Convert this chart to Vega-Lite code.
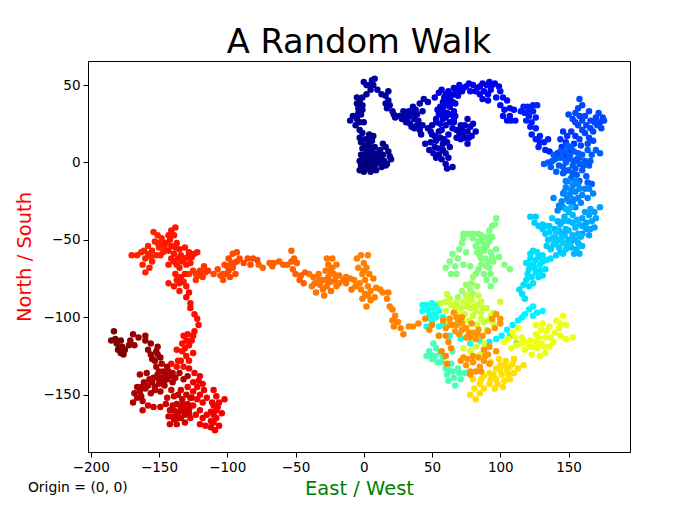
{"$schema":"https://vega.github.io/schema/vega-lite/v6.json","width":542,"height":391,"autosize":"none","padding":{"left":88,"top":61,"right":70,"bottom":56},"background":"white",
"title":{"text":"A Random Walk","fontSize":33.7,"fontWeight":"normal","font":"DejaVu Sans","color":"black","anchor":"middle","offset":1},
"config":{"view":{"stroke":"black","strokeWidth":1},"axis":{"grid":false,"domain":false,"tickColor":"black","tickSize":5,"labelColor":"black","labelFont":"DejaVu Sans","labelFontSize":13.5,"labelPadding":3,"titleFont":"DejaVu Sans","titleFontWeight":"normal","titleFontSize":19.5}},
"layer":[
{"data":{"values":[
{"t":0,"x":0,"y":0},{"t":0,"x":3,"y":-4},{"t":0,"x":5,"y":-6},{"t":0,"x":-3,"y":-5},{"t":0,"x":-1,"y":2},{"t":0,"x":1,"y":5},{"t":0,"x":-2,"y":-2},{"t":0,"x":4,"y":-1},{"t":0,"x":7,"y":1},{"t":0,"x":6,"y":-3},{"t":0,"x":1,"y":-3},{"t":0,"x":-3,"y":1},{"t":0,"x":2,"y":2},{"t":0,"x":5,"y":3},{"t":0,"x":0,"y":-6},{"t":0,"x":8,"y":-2},{"t":0,"x":-2,"y":5},{"t":0,"x":3,"y":7},
{"t":1,"x":2,"y":8},{"t":1,"x":4,"y":12},{"t":1,"x":6,"y":14},{"t":1,"x":1,"y":11},{"t":1,"x":-1,"y":9},{"t":1,"x":7,"y":6},{"t":1,"x":3,"y":4},{"t":1,"x":9,"y":3},{"t":1,"x":11,"y":0},{"t":1,"x":13,"y":-3},{"t":1,"x":9,"y":-5},{"t":1,"x":15,"y":1},{"t":1,"x":5,"y":9},{"t":1,"x":8,"y":10},{"t":1,"x":-2,"y":13},{"t":1,"x":3,"y":15},{"t":1,"x":7,"y":17},{"t":1,"x":4,"y":18},{"t":1,"x":12,"y":3},{"t":1,"x":14,"y":5},{"t":1,"x":16,"y":-2},{"t":1,"x":10,"y":6},
{"t":1,"x":19,"y":4},{"t":1,"x":18,"y":7},{"t":1,"x":16,"y":10},{"t":1,"x":14,"y":12},{"t":1,"x":20,"y":2},{"t":1,"x":17,"y":-1},{"t":1,"x":12,"y":8},
{"t":2,"x":1,"y":15},{"t":2,"x":-1,"y":19},{"t":2,"x":-3,"y":16},{"t":2,"x":-3,"y":21},{"t":2,"x":-6,"y":24},{"t":2,"x":-10,"y":27},{"t":2,"x":-8,"y":30},{"t":2,"x":-5,"y":28},{"t":2,"x":-3,"y":26},{"t":2,"x":0,"y":26},{"t":2,"x":-2,"y":31},{"t":2,"x":-4,"y":35},{"t":2,"x":-3,"y":39},{"t":2,"x":-1,"y":37},{"t":2,"x":-5,"y":42},{"t":2,"x":-1,"y":42},{"t":2,"x":2,"y":44},{"t":2,"x":5,"y":47},{"t":2,"x":7,"y":50},{"t":2,"x":4,"y":50},{"t":2,"x":-4,"y":32},{"t":2,"x":-1,"y":34},{"t":2,"x":-5,"y":38},
{"t":3,"x":8,"y":54},{"t":3,"x":6,"y":53},{"t":3,"x":0,"y":52},{"t":3,"x":2,"y":50},{"t":3,"x":10,"y":47},{"t":3,"x":13,"y":44},{"t":3,"x":16,"y":43},{"t":3,"x":18,"y":40},{"t":3,"x":19,"y":37},{"t":3,"x":16,"y":38},{"t":3,"x":21,"y":33},{"t":3,"x":23,"y":29},{"t":3,"x":26,"y":30},{"t":3,"x":29,"y":33},{"t":3,"x":17,"y":35},{"t":3,"x":18,"y":46},{"t":3,"x":22,"y":31},
{"t":4,"x":28,"y":28},{"t":4,"x":31,"y":26},{"t":4,"x":33,"y":30},{"t":4,"x":36,"y":32},{"t":4,"x":34,"y":25},{"t":4,"x":37,"y":28},{"t":4,"x":38,"y":34},{"t":4,"x":40,"y":27},{"t":4,"x":37,"y":22},{"t":4,"x":41,"y":21},{"t":4,"x":43,"y":24},{"t":4,"x":43,"y":33},{"t":4,"x":41,"y":38},{"t":4,"x":44,"y":41},{"t":4,"x":47,"y":39},{"t":4,"x":30,"y":30},{"t":4,"x":33,"y":33},{"t":4,"x":36,"y":36},{"t":4,"x":39,"y":31},{"t":4,"x":35,"y":23},{"t":4,"x":32,"y":28},{"t":4,"x":39,"y":24},{"t":4,"x":42,"y":18},
{"t":5,"x":47,"y":22},{"t":5,"x":50,"y":24},{"t":5,"x":53,"y":28},{"t":5,"x":50,"y":18},{"t":5,"x":53,"y":14},{"t":5,"x":49,"y":13},{"t":5,"x":45,"y":12},{"t":5,"x":48,"y":8},{"t":5,"x":51,"y":6},{"t":5,"x":55,"y":9},{"t":5,"x":58,"y":12},{"t":5,"x":53,"y":3},{"t":5,"x":57,"y":2},{"t":5,"x":60,"y":6},{"t":5,"x":63,"y":10},{"t":5,"x":62,"y":3},{"t":5,"x":60,"y":-1},{"t":5,"x":61,"y":-4},{"t":5,"x":65,"y":-3},{"t":5,"x":56,"y":16},{"t":5,"x":52,"y":10},{"t":5,"x":55,"y":5},{"t":5,"x":58,"y":8},{"t":5,"x":52,"y":17},{"t":5,"x":55,"y":20},{"t":5,"x":49,"y":20},{"t":5,"x":59,"y":15},{"t":5,"x":61,"y":13},
{"t":6,"x":57,"y":21},{"t":6,"x":60,"y":24},{"t":6,"x":62,"y":18},{"t":6,"x":65,"y":22},{"t":6,"x":68,"y":16},{"t":6,"x":72,"y":21},{"t":6,"x":74,"y":24},{"t":6,"x":76,"y":28},{"t":6,"x":78,"y":23},{"t":6,"x":82,"y":20},{"t":6,"x":79,"y":17},{"t":6,"x":76,"y":12},{"t":6,"x":74,"y":16},{"t":6,"x":70,"y":19},{"t":6,"x":66,"y":28},{"t":6,"x":71,"y":24},{"t":6,"x":76,"y":20},{"t":6,"x":80,"y":25},{"t":6,"x":73,"y":19},{"t":6,"x":68,"y":21},{"t":6,"x":77,"y":16},{"t":6,"x":71,"y":15},
{"t":8,"x":53,"y":26},{"t":8,"x":55,"y":31},{"t":8,"x":58,"y":28},{"t":8,"x":61,"y":32},{"t":8,"x":56,"y":36},{"t":8,"x":60,"y":37},{"t":8,"x":63,"y":36},{"t":8,"x":66,"y":33},{"t":8,"x":59,"y":42},{"t":8,"x":63,"y":41},{"t":8,"x":67,"y":38},{"t":8,"x":55,"y":45},{"t":8,"x":52,"y":42},{"t":8,"x":57,"y":47},{"t":8,"x":62,"y":46},{"t":8,"x":66,"y":44},{"t":8,"x":69,"y":43},{"t":8,"x":66,"y":48},{"t":8,"x":72,"y":46},{"t":8,"x":56,"y":25},{"t":8,"x":60,"y":29},{"t":8,"x":63,"y":31},{"t":8,"x":58,"y":34},{"t":8,"x":61,"y":39},{"t":8,"x":65,"y":39},{"t":8,"x":58,"y":39},{"t":8,"x":60,"y":44},{"t":8,"x":64,"y":43},{"t":8,"x":69,"y":47},{"t":8,"x":63,"y":26},{"t":8,"x":66,"y":26},{"t":8,"x":59,"y":31},{"t":8,"x":67,"y":30},{"t":8,"x":54,"y":34},
{"t":10,"x":70,"y":50},{"t":10,"x":75,"y":49},{"t":10,"x":78,"y":46},{"t":10,"x":80,"y":50},{"t":10,"x":83,"y":48},{"t":10,"x":87,"y":51},{"t":10,"x":90,"y":50},{"t":10,"x":93,"y":47},{"t":10,"x":96,"y":51},{"t":10,"x":94,"y":50},{"t":10,"x":99,"y":49},{"t":10,"x":85,"y":44},{"t":10,"x":87,"y":41},{"t":10,"x":91,"y":40},{"t":10,"x":73,"y":48},{"t":10,"x":77,"y":51},{"t":10,"x":82,"y":46},{"t":10,"x":85,"y":49},{"t":10,"x":88,"y":46},{"t":10,"x":91,"y":44},{"t":10,"x":92,"y":52},
{"t":12,"x":100,"y":46},{"t":12,"x":102,"y":42},{"t":12,"x":105,"y":40},{"t":12,"x":97,"y":42},{"t":12,"x":100,"y":37},{"t":12,"x":103,"y":34},{"t":12,"x":107,"y":35},{"t":12,"x":110,"y":34},{"t":12,"x":107,"y":30},{"t":12,"x":111,"y":27},{"t":12,"x":105,"y":27},{"t":12,"x":102,"y":30},{"t":12,"x":108,"y":27},
{"t":14,"x":115,"y":33},{"t":14,"x":117,"y":36},{"t":14,"x":120,"y":36},{"t":14,"x":124,"y":37},{"t":14,"x":127,"y":37},{"t":14,"x":118,"y":32},{"t":14,"x":121,"y":30},{"t":14,"x":124,"y":33},{"t":14,"x":119,"y":27},{"t":14,"x":123,"y":26},{"t":14,"x":126,"y":22},{"t":14,"x":123,"y":18},{"t":14,"x":126,"y":15},{"t":14,"x":129,"y":17},{"t":14,"x":128,"y":10},{"t":14,"x":132,"y":13},{"t":14,"x":135,"y":15},{"t":14,"x":133,"y":8},{"t":14,"x":136,"y":7},{"t":14,"x":121,"y":34},{"t":14,"x":122,"y":23},{"t":14,"x":126,"y":29},{"t":14,"x":129,"y":13},
{"t":16,"x":142,"y":6},{"t":16,"x":145,"y":10},{"t":16,"x":147,"y":4},{"t":16,"x":151,"y":8},{"t":16,"x":154,"y":12},{"t":16,"x":148,"y":13},{"t":16,"x":144,"y":15},{"t":16,"x":149,"y":17},{"t":16,"x":152,"y":20},{"t":16,"x":146,"y":20},{"t":16,"x":155,"y":17},
{"t":18,"x":158,"y":15},{"t":18,"x":162,"y":19},{"t":18,"x":165,"y":16},{"t":18,"x":168,"y":20},{"t":18,"x":171,"y":24},{"t":18,"x":174,"y":22},{"t":18,"x":175,"y":29},{"t":18,"x":172,"y":32},{"t":18,"x":176,"y":27},{"t":18,"x":170,"y":29},{"t":18,"x":166,"y":27},{"t":18,"x":163,"y":24},{"t":18,"x":160,"y":27},{"t":18,"x":158,"y":30},{"t":18,"x":155,"y":26},{"t":18,"x":153,"y":28},{"t":18,"x":157,"y":35},{"t":18,"x":160,"y":37},{"t":18,"x":158,"y":41},{"t":18,"x":165,"y":33},{"t":18,"x":150,"y":31},{"t":18,"x":168,"y":14},{"t":18,"x":159,"y":11},{"t":18,"x":160,"y":21},{"t":18,"x":166,"y":22},{"t":18,"x":169,"y":26},{"t":18,"x":173,"y":26},{"t":18,"x":157,"y":24},{"t":18,"x":162,"y":30},{"t":18,"x":155,"y":32},{"t":18,"x":164,"y":12},
{"t":20,"x":135,"y":0},{"t":20,"x":132,"y":-1},{"t":20,"x":137,"y":-3},{"t":20,"x":140,"y":2},{"t":20,"x":143,"y":-2},{"t":20,"x":145,"y":3},{"t":20,"x":141,"y":-6},{"t":20,"x":148,"y":0},{"t":20,"x":151,"y":4},{"t":20,"x":153,"y":-2},{"t":20,"x":156,"y":2},{"t":20,"x":150,"y":-5},{"t":20,"x":158,"y":-1},{"t":20,"x":154,"y":7},{"t":20,"x":160,"y":5},{"t":20,"x":164,"y":8},{"t":20,"x":167,"y":5},{"t":20,"x":170,"y":8},{"t":20,"x":173,"y":6},{"t":20,"x":162,"y":1},{"t":20,"x":165,"y":-2},{"t":20,"x":160,"y":-5},{"t":20,"x":156,"y":-8},{"t":20,"x":163,"y":-9},{"t":20,"x":139,"y":5},{"t":20,"x":144,"y":7},{"t":20,"x":148,"y":7},{"t":20,"x":146,"y":-3},{"t":20,"x":150,"y":2},{"t":20,"x":154,"y":1},{"t":20,"x":152,"y":10},{"t":20,"x":157,"y":6},{"t":20,"x":143,"y":3},{"t":20,"x":147,"y":-6},{"t":20,"x":155,"y":-4},{"t":20,"x":161,"y":-2},{"t":20,"x":138,"y":1},{"t":20,"x":153,"y":-7},{"t":20,"x":158,"y":3},{"t":20,"x":149,"y":11},{"t":20,"x":166,"y":1},
{"t":20,"x":146,"y":-7},{"t":20,"x":152,"y":-10},{"t":20,"x":158,"y":-12},{"t":20,"x":164,"y":-13},{"t":20,"x":167,"y":-14},
{"t":24,"x":150,"y":-12},{"t":24,"x":153,"y":-15},{"t":24,"x":148,"y":-16},{"t":24,"x":155,"y":-19},{"t":24,"x":151,"y":-21},{"t":24,"x":146,"y":-20},{"t":24,"x":158,"y":-17},{"t":24,"x":160,"y":-21},{"t":24,"x":165,"y":-17},{"t":24,"x":168,"y":-20},{"t":24,"x":164,"y":-23},{"t":24,"x":145,"y":-25},{"t":24,"x":143,"y":-28},{"t":24,"x":139,"y":-23},{"t":24,"x":142,"y":-31},{"t":24,"x":146,"y":-29},{"t":24,"x":150,"y":-25},{"t":24,"x":154,"y":-24},{"t":24,"x":155,"y":-29},{"t":24,"x":159,"y":-26},{"t":24,"x":148,"y":-12},{"t":24,"x":155,"y":-12},{"t":24,"x":152,"y":-18},{"t":24,"x":157,"y":-14},{"t":24,"x":149,"y":-23},{"t":24,"x":153,"y":-27},{"t":24,"x":162,"y":-17},{"t":24,"x":157,"y":-23},{"t":24,"x":147,"y":-19},
{"t":27,"x":162,"y":-32},{"t":27,"x":165,"y":-34},{"t":27,"x":169,"y":-32},{"t":27,"x":173,"y":-29},{"t":27,"x":160,"y":-36},{"t":27,"x":163,"y":-39},{"t":27,"x":167,"y":-38},{"t":27,"x":169,"y":-42},{"t":27,"x":163,"y":-43},{"t":27,"x":165,"y":-47},{"t":27,"x":160,"y":-46},{"t":27,"x":166,"y":-30},{"t":27,"x":160,"y":-41},{"t":27,"x":166,"y":-43},{"t":27,"x":170,"y":-36},
{"t":29,"x":150,"y":-32},{"t":29,"x":153,"y":-34},{"t":29,"x":147,"y":-35},{"t":29,"x":156,"y":-37},{"t":29,"x":150,"y":-38},{"t":29,"x":144,"y":-40},{"t":29,"x":155,"y":-42},{"t":29,"x":148,"y":-43},{"t":29,"x":159,"y":-48},{"t":29,"x":153,"y":-47},{"t":29,"x":150,"y":-50},{"t":29,"x":145,"y":-46},{"t":29,"x":140,"y":-43},{"t":29,"x":157,"y":-52},{"t":29,"x":160,"y":-54},{"t":29,"x":156,"y":-56},{"t":29,"x":158,"y":-59},{"t":29,"x":152,"y":-55},{"t":29,"x":148,"y":-30},{"t":29,"x":152,"y":-29},{"t":29,"x":146,"y":-38},{"t":29,"x":153,"y":-39},{"t":29,"x":150,"y":-44},{"t":29,"x":143,"y":-44},{"t":29,"x":147,"y":-47},{"t":29,"x":155,"y":-50},{"t":29,"x":152,"y":-51},{"t":29,"x":149,"y":-54},{"t":29,"x":157,"y":-46},{"t":29,"x":142,"y":-38},{"t":29,"x":158,"y":-40},{"t":29,"x":154,"y":-59},
{"t":31,"x":136,"y":-45},{"t":31,"x":140,"y":-48},{"t":31,"x":135,"y":-50},{"t":31,"x":143,"y":-50},{"t":31,"x":146,"y":-52},{"t":31,"x":139,"y":-53},{"t":31,"x":143,"y":-55},{"t":31,"x":148,"y":-56},{"t":31,"x":146,"y":-59},{"t":31,"x":141,"y":-60},{"t":31,"x":134,"y":-54},{"t":31,"x":131,"y":-43},{"t":31,"x":128,"y":-41},{"t":31,"x":125,"y":-39},{"t":31,"x":122,"y":-35},{"t":31,"x":126,"y":-35},{"t":31,"x":131,"y":-40},{"t":31,"x":136,"y":-41},{"t":31,"x":138,"y":-36},{"t":31,"x":138,"y":-49},{"t":31,"x":141,"y":-45},{"t":31,"x":145,"y":-49},{"t":31,"x":137,"y":-56},{"t":31,"x":141,"y":-52},{"t":31,"x":133,"y":-46},{"t":31,"x":150,"y":-53},{"t":31,"x":144,"y":-58},{"t":31,"x":134,"y":-41},
{"t":33,"x":137,"y":-62},{"t":33,"x":134,"y":-63},{"t":33,"x":131,"y":-60},{"t":33,"x":127,"y":-58},{"t":33,"x":124,"y":-57},{"t":33,"x":122,"y":-62},{"t":33,"x":119,"y":-65},{"t":33,"x":126,"y":-63},{"t":33,"x":129,"y":-66},{"t":33,"x":133,"y":-69},{"t":33,"x":131,"y":-73},{"t":33,"x":126,"y":-71},{"t":33,"x":121,"y":-69},{"t":33,"x":123,"y":-74},{"t":33,"x":119,"y":-76},{"t":33,"x":124,"y":-78},{"t":33,"x":117,"y":-79},{"t":33,"x":114,"y":-82},{"t":33,"x":116,"y":-85},{"t":33,"x":118,"y":-88},{"t":33,"x":124,"y":-66},{"t":33,"x":128,"y":-61},{"t":33,"x":122,"y":-66},{"t":33,"x":129,"y":-70},{"t":33,"x":125,"y":-68},{"t":33,"x":120,"y":-72},{"t":33,"x":128,"y":-74},{"t":33,"x":121,"y":-80},{"t":33,"x":131,"y":-64},{"t":33,"x":122,"y":-59},
{"t":35,"x":124,"y":-93},{"t":35,"x":121,"y":-95},{"t":35,"x":127,"y":-97},{"t":35,"x":131,"y":-96},{"t":35,"x":124,"y":-99},{"t":35,"x":118,"y":-98},{"t":35,"x":116,"y":-100},{"t":35,"x":113,"y":-102},{"t":35,"x":109,"y":-105},{"t":35,"x":105,"y":-108},{"t":35,"x":107,"y":-112},{"t":35,"x":112,"y":-117},{"t":35,"x":101,"y":-112},{"t":35,"x":97,"y":-114},{"t":35,"x":92,"y":-116},
{"t":38,"x":85,"y":-115},{"t":38,"x":78,"y":-117},{"t":38,"x":71,"y":-114},{"t":38,"x":63,"y":-112},{"t":38,"x":55,"y":-106},{"t":38,"x":50,"y":-103},{"t":38,"x":46,"y":-106},{"t":38,"x":53,"y":-100},{"t":38,"x":48,"y":-98},{"t":38,"x":43,"y":-96},{"t":38,"x":43,"y":-92},{"t":38,"x":46,"y":-92},{"t":38,"x":51,"y":-94},{"t":38,"x":55,"y":-96},{"t":38,"x":58,"y":-100},{"t":38,"x":50,"y":-91},{"t":38,"x":47,"y":-95},{"t":38,"x":51,"y":-98},{"t":38,"x":54,"y":-92},{"t":38,"x":58,"y":-105},{"t":38,"x":49,"y":-101},
{"t":44,"x":55,"y":-112},{"t":44,"x":51,"y":-117},{"t":44,"x":48,"y":-122},{"t":44,"x":53,"y":-120},{"t":44,"x":56,"y":-123},{"t":44,"x":46,"y":-125},{"t":44,"x":50,"y":-127},{"t":44,"x":54,"y":-129},{"t":44,"x":58,"y":-126},{"t":44,"x":60,"y":-133},{"t":44,"x":64,"y":-130},{"t":44,"x":61,"y":-137},{"t":44,"x":65,"y":-135},{"t":44,"x":69,"y":-133},{"t":44,"x":62,"y":-141},{"t":44,"x":67,"y":-144},{"t":44,"x":71,"y":-140},{"t":44,"x":74,"y":-136},{"t":44,"x":65,"y":-122},{"t":44,"x":49,"y":-124},{"t":44,"x":52,"y":-125},{"t":44,"x":62,"y":-134},{"t":44,"x":66,"y":-139},{"t":44,"x":70,"y":-136},{"t":44,"x":57,"y":-129},
{"t":50,"x":60,"y":-68},{"t":50,"x":64,"y":-72},{"t":50,"x":68,"y":-72},{"t":50,"x":65,"y":-59},{"t":50,"x":63,"y":-64},{"t":50,"x":69,"y":-62},{"t":50,"x":73,"y":-66},{"t":50,"x":70,"y":-56},{"t":50,"x":73,"y":-49},{"t":50,"x":73,"y":-46},{"t":50,"x":77,"y":-46},{"t":50,"x":80,"y":-49},{"t":50,"x":84,"y":-46},{"t":50,"x":87,"y":-50},{"t":50,"x":82,"y":-54},{"t":50,"x":86,"y":-56},{"t":50,"x":90,"y":-54},{"t":50,"x":94,"y":-48},{"t":50,"x":92,"y":-44},{"t":50,"x":96,"y":-40},{"t":50,"x":97,"y":-36},{"t":50,"x":94,"y":-41},{"t":50,"x":90,"y":-48},{"t":50,"x":84,"y":-51},{"t":50,"x":88,"y":-53},{"t":50,"x":92,"y":-51},{"t":50,"x":80,"y":-46},{"t":50,"x":86,"y":-47},{"t":50,"x":72,"y":-52},{"t":50,"x":67,"y":-67},{"t":50,"x":83,"y":-58},
{"t":50,"x":85,"y":-60},{"t":50,"x":89,"y":-62},{"t":50,"x":93,"y":-58},{"t":50,"x":97,"y":-56},{"t":50,"x":86,"y":-66},{"t":50,"x":90,"y":-67},{"t":50,"x":95,"y":-64},{"t":50,"x":99,"y":-61},{"t":50,"x":103,"y":-66},{"t":50,"x":107,"y":-69},{"t":50,"x":88,"y":-72},{"t":50,"x":82,"y":-72},{"t":50,"x":78,"y":-67},{"t":50,"x":93,"y":-72},{"t":50,"x":96,"y":-76},{"t":50,"x":93,"y":-80},{"t":50,"x":90,"y":-76},{"t":50,"x":75,"y":-58},{"t":50,"x":91,"y":-64},{"t":50,"x":88,"y":-57},{"t":50,"x":92,"y":-68},{"t":50,"x":86,"y":-62},{"t":50,"x":94,"y":-61},{"t":50,"x":84,"y":-69},
{"t":53,"x":80,"y":-74},{"t":53,"x":75,"y":-79},{"t":53,"x":78,"y":-82},{"t":53,"x":83,"y":-80},{"t":53,"x":72,"y":-83},{"t":53,"x":69,"y":-87},{"t":53,"x":75,"y":-86},{"t":53,"x":80,"y":-85},{"t":53,"x":79,"y":-78},
{"t":59,"x":61,"y":-85},{"t":59,"x":56,"y":-91},{"t":59,"x":60,"y":-90},{"t":59,"x":64,"y":-92},{"t":59,"x":68,"y":-91},{"t":59,"x":60,"y":-96},{"t":59,"x":66,"y":-97},{"t":59,"x":62,"y":-102},{"t":59,"x":71,"y":-94},{"t":59,"x":73,"y":-90},{"t":59,"x":76,"y":-86},{"t":59,"x":79,"y":-89},{"t":59,"x":84,"y":-86},{"t":59,"x":83,"y":-92},{"t":59,"x":78,"y":-94},{"t":59,"x":74,"y":-98},{"t":59,"x":80,"y":-99},{"t":59,"x":86,"y":-97},{"t":59,"x":90,"y":-94},{"t":59,"x":93,"y":-99},{"t":59,"x":88,"y":-103},{"t":59,"x":83,"y":-105},{"t":59,"x":90,"y":-108},{"t":59,"x":95,"y":-104},{"t":59,"x":100,"y":-90},{"t":59,"x":63,"y":-88},{"t":59,"x":67,"y":-94},{"t":59,"x":70,"y":-98},{"t":59,"x":75,"y":-93},{"t":59,"x":81,"y":-93},{"t":59,"x":86,"y":-90},{"t":59,"x":87,"y":-94},{"t":59,"x":77,"y":-90},{"t":59,"x":82,"y":-96},{"t":59,"x":77,"y":-102},{"t":59,"x":72,"y":-103},{"t":59,"x":86,"y":-101},{"t":59,"x":91,"y":-102},{"t":59,"x":95,"y":-97},
{"t":60,"x":82,"y":-119},{"t":60,"x":78,"y":-122},{"t":60,"x":85,"y":-124},{"t":60,"x":73,"y":-120},{"t":60,"x":88,"y":-117},
{"t":63,"x":106,"y":-114},{"t":63,"x":109,"y":-110},{"t":63,"x":113,"y":-107},{"t":63,"x":116,"y":-113},{"t":63,"x":112,"y":-118},{"t":63,"x":108,"y":-120},{"t":63,"x":118,"y":-121},{"t":63,"x":103,"y":-116},{"t":63,"x":122,"y":-115},{"t":63,"x":126,"y":-111},{"t":63,"x":130,"y":-108},{"t":63,"x":126,"y":-105},{"t":63,"x":131,"y":-104},{"t":63,"x":136,"y":-106},{"t":63,"x":141,"y":-102},{"t":63,"x":146,"y":-99},{"t":63,"x":143,"y":-107},{"t":63,"x":148,"y":-105},{"t":63,"x":153,"y":-113},{"t":63,"x":148,"y":-114},{"t":63,"x":144,"y":-112},{"t":63,"x":140,"y":-110},{"t":63,"x":137,"y":-113},{"t":63,"x":133,"y":-113},{"t":63,"x":130,"y":-117},{"t":63,"x":136,"y":-119},{"t":63,"x":127,"y":-120},{"t":63,"x":123,"y":-124},{"t":63,"x":129,"y":-125},{"t":63,"x":133,"y":-123},{"t":63,"x":121,"y":-119},{"t":63,"x":111,"y":-113},{"t":63,"x":115,"y":-117},{"t":63,"x":134,"y":-109},{"t":63,"x":132,"y":-119},{"t":63,"x":139,"y":-116},{"t":63,"x":126,"y":-116},{"t":63,"x":144,"y":-104},{"t":63,"x":128,"y":-113},{"t":63,"x":123,"y":-119},{"t":63,"x":118,"y":-116},
{"t":68,"x":82,"y":-153},{"t":68,"x":78,"y":-150},{"t":68,"x":85,"y":-149},{"t":68,"x":81,"y":-146},{"t":68,"x":88,"y":-146},{"t":68,"x":92,"y":-143},{"t":68,"x":96,"y":-146},{"t":68,"x":102,"y":-145},{"t":68,"x":97,"y":-140},{"t":68,"x":86,"y":-140},{"t":68,"x":80,"y":-140},{"t":68,"x":92,"y":-136},{"t":68,"x":97,"y":-133},{"t":68,"x":101,"y":-137},{"t":68,"x":105,"y":-134},{"t":68,"x":109,"y":-130},{"t":68,"x":104,"y":-128},{"t":68,"x":110,"y":-136},{"t":68,"x":113,"y":-133},{"t":68,"x":117,"y":-131},{"t":68,"x":107,"y":-140},{"t":68,"x":99,"y":-127},{"t":68,"x":93,"y":-129},{"t":68,"x":100,"y":-131},{"t":68,"x":95,"y":-137},{"t":68,"x":103,"y":-141},{"t":68,"x":98,"y":-143},{"t":68,"x":107,"y":-132},{"t":68,"x":103,"y":-131},{"t":68,"x":110,"y":-127},{"t":68,"x":93,"y":-140},{"t":68,"x":88,"y":-138},{"t":68,"x":85,"y":-143},{"t":68,"x":106,"y":-137},{"t":68,"x":100,"y":-134},
{"t":75,"x":71,"y":-128},{"t":75,"x":75,"y":-131},{"t":75,"x":80,"y":-129},{"t":75,"x":85,"y":-132},{"t":75,"x":88,"y":-128},{"t":75,"x":82,"y":-135},{"t":75,"x":78,"y":-135},{"t":75,"x":73,"y":-126},{"t":75,"x":91,"y":-124},{"t":75,"x":92,"y":-119},{"t":75,"x":97,"y":-122},{"t":75,"x":88,"y":-121},{"t":75,"x":80,"y":-110},{"t":75,"x":75,"y":-107},{"t":75,"x":79,"y":-104},{"t":75,"x":84,"y":-108},{"t":75,"x":87,"y":-112},{"t":75,"x":82,"y":-114},{"t":75,"x":75,"y":-113},{"t":75,"x":70,"y":-111},{"t":75,"x":68,"y":-105},{"t":75,"x":72,"y":-100},{"t":75,"x":68,"y":-100},{"t":75,"x":63,"y":-101},{"t":75,"x":58,"y":-102},{"t":75,"x":65,"y":-105},{"t":75,"x":60,"y":-107},{"t":75,"x":66,"y":-97},{"t":75,"x":91,"y":-109},{"t":75,"x":96,"y":-107},{"t":75,"x":100,"y":-104},{"t":75,"x":94,"y":-101},{"t":75,"x":97,"y":-98},{"t":75,"x":100,"y":-101},{"t":75,"x":84,"y":-126},{"t":75,"x":80,"y":-125},{"t":75,"x":89,"y":-125},{"t":75,"x":76,"y":-127},{"t":75,"x":86,"y":-135},{"t":75,"x":92,"y":-130},{"t":75,"x":72,"y":-108},{"t":75,"x":72,"y":-104},{"t":75,"x":77,"y":-110},{"t":75,"x":67,"y":-109},{"t":75,"x":63,"y":-105},{"t":75,"x":78,"y":-113},{"t":75,"x":83,"y":-111},{"t":75,"x":69,"y":-103},{"t":75,"x":78,"y":-137},
{"t":76,"x":60,"y":-112},{"t":76,"x":55,"y":-112},{"t":76,"x":62,"y":-116},{"t":76,"x":60,"y":-125},{"t":76,"x":64,"y":-120},{"t":76,"x":57,"y":-122},{"t":76,"x":61,"y":-130},{"t":76,"x":48,"y":-108},{"t":76,"x":45,"y":-101},{"t":76,"x":50,"y":-105},{"t":76,"x":40,"y":-104},{"t":76,"x":36,"y":-106},{"t":76,"x":33,"y":-106},
{"t":77,"x":29,"y":-111},{"t":77,"x":27,"y":-107},{"t":77,"x":25,"y":-103},{"t":77,"x":22,"y":-106},{"t":77,"x":21,"y":-102},{"t":77,"x":23,"y":-99},{"t":77,"x":21,"y":-95},{"t":77,"x":19,"y":-93},{"t":77,"x":17,"y":-88},{"t":77,"x":18,"y":-84},{"t":77,"x":14,"y":-84},{"t":77,"x":12,"y":-82},{"t":77,"x":8,"y":-87},{"t":77,"x":5,"y":-89},{"t":77,"x":2,"y":-93},{"t":77,"x":-1,"y":-88},{"t":77,"x":1,"y":-85},{"t":77,"x":5,"y":-83},{"t":77,"x":3,"y":-80},{"t":77,"x":7,"y":-75},{"t":77,"x":4,"y":-72},{"t":77,"x":2,"y":-68},{"t":77,"x":0,"y":-65},{"t":77,"x":3,"y":-60},{"t":77,"x":-2,"y":-60},{"t":77,"x":-5,"y":-62},{"t":77,"x":-1,"y":-72},{"t":77,"x":-4,"y":-68},{"t":77,"x":-3,"y":-78},{"t":77,"x":-7,"y":-76},{"t":77,"x":1,"y":-76},{"t":77,"x":-2,"y":-82},{"t":77,"x":3,"y":-86},{"t":77,"x":0,"y":-70},{"t":77,"x":-6,"y":-80},{"t":77,"x":9,"y":-81},
{"t":78,"x":-10,"y":-75},{"t":78,"x":-13,"y":-78},{"t":78,"x":-9,"y":-82},{"t":78,"x":-15,"y":-76},{"t":78,"x":-18,"y":-73},{"t":78,"x":-21,"y":-76},{"t":78,"x":-23,"y":-68},{"t":78,"x":-26,"y":-66},{"t":78,"x":-23,"y":-62},{"t":78,"x":-27,"y":-62},{"t":78,"x":-20,"y":-66},{"t":78,"x":-28,"y":-70},{"t":78,"x":-26,"y":-74},{"t":78,"x":-30,"y":-76},{"t":78,"x":-27,"y":-80},{"t":78,"x":-24,"y":-83},{"t":78,"x":-32,"y":-79},{"t":78,"x":-35,"y":-84},{"t":78,"x":-29,"y":-86},{"t":78,"x":-37,"y":-74},{"t":78,"x":-40,"y":-72},{"t":78,"x":-33,"y":-72},{"t":78,"x":-36,"y":-78},{"t":78,"x":-22,"y":-72},{"t":78,"x":-24,"y":-77},{"t":78,"x":-18,"y":-78},{"t":78,"x":-27,"y":-76},{"t":78,"x":-30,"y":-82},{"t":78,"x":-33,"y":-76},{"t":78,"x":-25,"y":-70},{"t":78,"x":-13,"y":-74},{"t":78,"x":-20,"y":-80},{"t":78,"x":-38,"y":-80},
{"t":80,"x":-43,"y":-71},{"t":80,"x":-46,"y":-73},{"t":80,"x":-47,"y":-76},{"t":80,"x":-44,"y":-78},{"t":80,"x":-50,"y":-72},{"t":80,"x":-52,"y":-69},{"t":80,"x":-49,"y":-65},{"t":80,"x":-53,"y":-64},{"t":80,"x":-51,"y":-62},{"t":80,"x":-53,"y":-57},{"t":80,"x":-56,"y":-66},{"t":80,"x":-59,"y":-66},{"t":80,"x":-62,"y":-64},{"t":80,"x":-66,"y":-65},{"t":80,"x":-69,"y":-65},{"t":80,"x":-67,"y":-67},{"t":80,"x":-74,"y":-68},{"t":80,"x":-77,"y":-66},
{"t":82,"x":-81,"y":-62},{"t":82,"x":-83,"y":-66},{"t":82,"x":-78,"y":-63},{"t":82,"x":-85,"y":-62},{"t":82,"x":-88,"y":-65},{"t":82,"x":-93,"y":-58},{"t":82,"x":-91,"y":-62},{"t":82,"x":-96,"y":-59},{"t":82,"x":-97,"y":-65},{"t":82,"x":-99,"y":-62},{"t":82,"x":-102,"y":-66},{"t":82,"x":-96,"y":-68},{"t":82,"x":-99,"y":-70},{"t":82,"x":-94,"y":-72},{"t":82,"x":-98,"y":-74},{"t":82,"x":-103,"y":-72},{"t":82,"x":-103,"y":-76},{"t":82,"x":-107,"y":-69},{"t":82,"x":-110,"y":-72},{"t":82,"x":-100,"y":-67},{"t":82,"x":-95,"y":-65},{"t":82,"x":-101,"y":-72},{"t":82,"x":-105,"y":-73},{"t":82,"x":-93,"y":-64},
{"t":84,"x":-114,"y":-70},{"t":84,"x":-117,"y":-67},{"t":84,"x":-120,"y":-70},{"t":84,"x":-123,"y":-72},{"t":84,"x":-125,"y":-70},{"t":84,"x":-123,"y":-76},{"t":84,"x":-118,"y":-74},{"t":84,"x":-128,"y":-72},{"t":84,"x":-120,"y":-73},{"t":84,"x":-116,"y":-71},
{"t":86,"x":-170,"y":-60},{"t":86,"x":-166,"y":-60},{"t":86,"x":-163,"y":-58},{"t":86,"x":-160,"y":-62},{"t":86,"x":-162,"y":-66},{"t":86,"x":-160,"y":-71},{"t":86,"x":-157,"y":-68},{"t":86,"x":-158,"y":-54},{"t":86,"x":-155,"y":-57},{"t":86,"x":-152,"y":-60},{"t":86,"x":-155,"y":-64},{"t":86,"x":-151,"y":-52},{"t":86,"x":-154,"y":-45},{"t":86,"x":-151,"y":-47},{"t":86,"x":-148,"y":-49},{"t":86,"x":-150,"y":-55},{"t":86,"x":-147,"y":-58},{"t":86,"x":-158,"y":-59},{"t":86,"x":-153,"y":-51},{"t":86,"x":-156,"y":-61},{"t":86,"x":-149,"y":-60},{"t":86,"x":-161,"y":-57},{"t":86,"x":-148,"y":-52},{"t":86,"x":-146,"y":-55},
{"t":87,"x":-145,"y":-52},{"t":87,"x":-143,"y":-47},{"t":87,"x":-138,"y":-42},{"t":87,"x":-139,"y":-47},{"t":87,"x":-141,"y":-44},{"t":87,"x":-141,"y":-54},{"t":87,"x":-137,"y":-52},{"t":87,"x":-143,"y":-57},{"t":87,"x":-139,"y":-59},{"t":87,"x":-135,"y":-56},{"t":87,"x":-131,"y":-55},{"t":87,"x":-128,"y":-58},{"t":87,"x":-122,"y":-58},{"t":87,"x":-126,"y":-61},{"t":87,"x":-131,"y":-62},{"t":87,"x":-136,"y":-62},{"t":87,"x":-141,"y":-62},{"t":87,"x":-143,"y":-66},{"t":87,"x":-135,"y":-68},{"t":87,"x":-130,"y":-66},{"t":87,"x":-127,"y":-65},{"t":87,"x":-138,"y":-72},{"t":87,"x":-134,"y":-74},{"t":87,"x":-131,"y":-72},{"t":87,"x":-135,"y":-78},{"t":87,"x":-143,"y":-78},{"t":87,"x":-139,"y":-80},{"t":87,"x":-135,"y":-83},{"t":87,"x":-130,"y":-80},{"t":87,"x":-142,"y":-50},{"t":87,"x":-138,"y":-55},{"t":87,"x":-134,"y":-60},{"t":87,"x":-139,"y":-64},{"t":87,"x":-129,"y":-61},{"t":87,"x":-133,"y":-64},{"t":87,"x":-137,"y":-76},{"t":87,"x":-132,"y":-77},{"t":87,"x":-137,"y":-66},{"t":87,"x":-124,"y":-59},
{"t":88,"x":-130,"y":-87},{"t":88,"x":-128,"y":-84},{"t":88,"x":-127,"y":-91},{"t":88,"x":-127,"y":-94},{"t":88,"x":-124,"y":-98},{"t":88,"x":-122,"y":-101},{"t":88,"x":-121,"y":-105},{"t":88,"x":-124,"y":-109},{"t":88,"x":-125,"y":-112},{"t":88,"x":-129,"y":-111},{"t":88,"x":-132,"y":-112},{"t":88,"x":-130,"y":-115},{"t":88,"x":-126,"y":-115},{"t":88,"x":-133,"y":-117},{"t":88,"x":-128,"y":-118},{"t":88,"x":-137,"y":-121},{"t":88,"x":-133,"y":-122},{"t":88,"x":-125,"y":-123},{"t":88,"x":-130,"y":-125},{"t":88,"x":-134,"y":-128},{"t":88,"x":-141,"y":-130},{"t":88,"x":-137,"y":-132},{"t":88,"x":-132,"y":-132},{"t":88,"x":-131,"y":-120},{"t":88,"x":-136,"y":-128},{"t":88,"x":-128,"y":-128},
{"t":90,"x":-120,"y":-138},{"t":90,"x":-124,"y":-136},{"t":90,"x":-128,"y":-133},{"t":90,"x":-118,"y":-143},{"t":90,"x":-122,"y":-145},{"t":90,"x":-125,"y":-148},{"t":90,"x":-120,"y":-150},{"t":90,"x":-115,"y":-152},{"t":90,"x":-110,"y":-147},{"t":90,"x":-108,"y":-151},{"t":90,"x":-111,"y":-155},{"t":90,"x":-106,"y":-155},{"t":90,"x":-102,"y":-153},{"t":90,"x":-108,"y":-160},{"t":90,"x":-112,"y":-161},{"t":90,"x":-104,"y":-162},{"t":90,"x":-108,"y":-165},{"t":90,"x":-112,"y":-167},{"t":90,"x":-106,"y":-170},{"t":90,"x":-109,"y":-173},{"t":90,"x":-112,"y":-171},{"t":90,"x":-116,"y":-170},{"t":90,"x":-120,"y":-169},{"t":90,"x":-115,"y":-163},{"t":90,"x":-120,"y":-160},{"t":90,"x":-125,"y":-157},{"t":90,"x":-123,"y":-163},{"t":90,"x":-127,"y":-165},{"t":90,"x":-129,"y":-145},{"t":90,"x":-110,"y":-157},{"t":90,"x":-107,"y":-158},{"t":90,"x":-110,"y":-163},{"t":90,"x":-110,"y":-168},{"t":90,"x":-118,"y":-155},{"t":90,"x":-122,"y":-153},{"t":90,"x":-126,"y":-152},{"t":90,"x":-117,"y":-147},{"t":90,"x":-121,"y":-141},{"t":90,"x":-125,"y":-142},{"t":90,"x":-118,"y":-165},
{"t":93,"x":-130,"y":-150},{"t":93,"x":-134,"y":-147},{"t":93,"x":-137,"y":-156},{"t":93,"x":-133,"y":-153},{"t":93,"x":-129,"y":-156},{"t":93,"x":-132,"y":-160},{"t":93,"x":-128,"y":-162},{"t":93,"x":-137,"y":-162},{"t":93,"x":-134,"y":-165},{"t":93,"x":-142,"y":-160},{"t":93,"x":-139,"y":-166},{"t":93,"x":-142,"y":-169},{"t":93,"x":-137,"y":-169},{"t":93,"x":-131,"y":-168},{"t":93,"x":-145,"y":-156},{"t":93,"x":-149,"y":-158},{"t":93,"x":-144,"y":-152},{"t":93,"x":-139,"y":-151},{"t":93,"x":-141,"y":-147},{"t":93,"x":-154,"y":-158},{"t":93,"x":-158,"y":-157},{"t":93,"x":-162,"y":-160},{"t":93,"x":-134,"y":-158},{"t":93,"x":-130,"y":-159},{"t":93,"x":-135,"y":-161},{"t":93,"x":-140,"y":-157},{"t":93,"x":-139,"y":-160},{"t":93,"x":-136,"y":-150},{"t":93,"x":-131,"y":-163},{"t":93,"x":-140,"y":-164},{"t":93,"x":-127,"y":-152},{"t":93,"x":-136,"y":-165},{"t":93,"x":-143,"y":-164},{"t":93,"x":-133,"y":-156},{"t":93,"x":-128,"y":-159},
{"t":96,"x":-169,"y":-155},{"t":96,"x":-166,"y":-152},{"t":96,"x":-162,"y":-154},{"t":96,"x":-168,"y":-149},{"t":96,"x":-164,"y":-148},{"t":96,"x":-166,"y":-145},{"t":96,"x":-160,"y":-146},{"t":96,"x":-156,"y":-149},{"t":96,"x":-161,"y":-142},{"t":96,"x":-157,"y":-140},{"t":96,"x":-153,"y":-145},{"t":96,"x":-149,"y":-148},{"t":96,"x":-150,"y":-143},{"t":96,"x":-146,"y":-144},{"t":96,"x":-164,"y":-137},{"t":96,"x":-159,"y":-136},{"t":96,"x":-154,"y":-139},{"t":96,"x":-148,"y":-139},{"t":96,"x":-144,"y":-140},{"t":96,"x":-140,"y":-142},{"t":96,"x":-147,"y":-135},{"t":96,"x":-152,"y":-132},{"t":96,"x":-148,"y":-130},{"t":96,"x":-143,"y":-135},{"t":96,"x":-142,"y":-138},{"t":96,"x":-135,"y":-136},{"t":96,"x":-138,"y":-139},{"t":96,"x":-132,"y":-140},{"t":96,"x":-129,"y":-138},{"t":96,"x":-163,"y":-151},{"t":96,"x":-158,"y":-144},{"t":96,"x":-155,"y":-142},{"t":96,"x":-163,"y":-145},{"t":96,"x":-151,"y":-137},{"t":96,"x":-146,"y":-141},{"t":96,"x":-150,"y":-135},{"t":96,"x":-144,"y":-132},{"t":96,"x":-140,"y":-136},{"t":96,"x":-145,"y":-137},{"t":96,"x":-147,"y":-142},{"t":96,"x":-153,"y":-147},{"t":96,"x":-150,"y":-140},
{"t":98,"x":-153,"y":-128},{"t":98,"x":-149,"y":-126},{"t":98,"x":-156,"y":-124},{"t":98,"x":-152,"y":-122},{"t":98,"x":-158,"y":-121},{"t":98,"x":-156,"y":-117},{"t":98,"x":-151,"y":-119},{"t":98,"x":-160,"y":-115},{"t":98,"x":-160,"y":-112},{"t":98,"x":-165,"y":-113},{"t":98,"x":-169,"y":-111},{"t":98,"x":-171,"y":-115},{"t":98,"x":-168,"y":-118},{"t":98,"x":-172,"y":-118},{"t":98,"x":-155,"y":-127},{"t":98,"x":-151,"y":-124},
{"t":100,"x":-175,"y":-121},{"t":100,"x":-178,"y":-123},{"t":100,"x":-176,"y":-124},{"t":100,"x":-180,"y":-121},{"t":100,"x":-181,"y":-117},{"t":100,"x":-178,"y":-115},{"t":100,"x":-185,"y":-115},{"t":100,"x":-183,"y":-109},{"t":100,"x":-182,"y":-114},{"t":100,"x":-179,"y":-120},{"t":100,"x":-176,"y":-122},{"t":100,"x":-177,"y":-119}
]},
"mark":{"type":"circle","size":42,"opacity":1},
"encoding":{
"x":{"field":"x","type":"quantitative","scale":{"domain":[-202,195],"nice":false,"zero":false},"axis":{"values":[-200,-150,-100,-50,0,50,100,150],"title":"East / West","titleColor":"green","titlePadding":6}},
"y":{"field":"y","type":"quantitative","scale":{"domain":[-187,65.5],"nice":false,"zero":false},"axis":{"values":[-150,-100,-50,0,50],"title":"North / South","titleColor":"red","titlePadding":8}},
"color":{"field":"t","type":"quantitative","legend":null,"scale":{"domain":[0,11,36,50,65,89,100],"range":["#00007f","#0000ff","#00ffff","#7fff7f","#ffff00","#ff0000","#7f0000"],"interpolate":"rgb"}},
"order":{"field":"t","type":"quantitative"}
}},
{"data":{"values":[{"x":-246,"y":-210,"label":"Origin = (0, 0)"}]},
"mark":{"type":"text","align":"left","baseline":"middle","font":"DejaVu Sans","fontSize":13.9,"color":"black"},
"encoding":{"x":{"field":"x","type":"quantitative"},"y":{"field":"y","type":"quantitative"},"text":{"field":"label"}}}
]}
